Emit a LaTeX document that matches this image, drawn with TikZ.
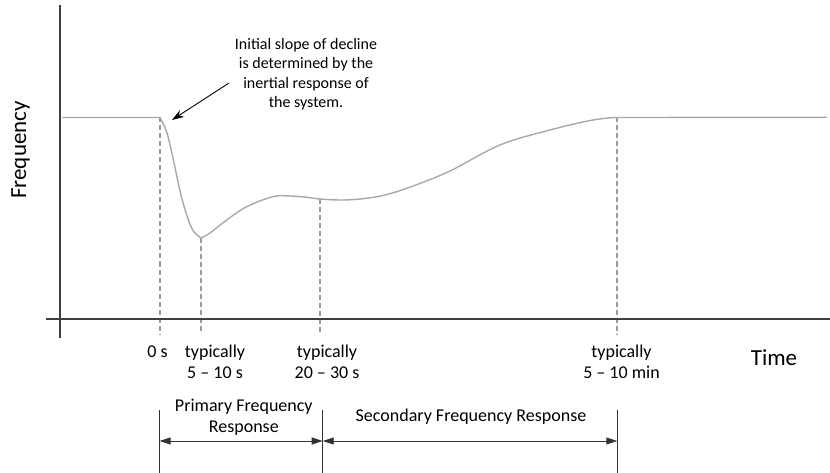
\documentclass[tikz,border=0pt]{standalone}
\usepackage{fontspec}
\setmainfont{Carlito}
\usetikzlibrary{arrows.meta}
\definecolor{axisc}{HTML}{404040}
\definecolor{curvec}{HTML}{A8A8A8}
\definecolor{dashc}{HTML}{9A9A9A}
\tikzset{
  axisline/.style={draw=axisc,line width=2.6pt},
  curveline/.style={draw=curvec,line width=1.4pt},
  guide/.style={draw=dashc,line width=1.2pt,dash pattern=on 5pt off 3pt},
  bracket/.style={draw=black!80,line width=0.9pt},
  span/.style={draw=black!80,line width=0.9pt,{Triangle[length=11pt,width=7pt]}-{Triangle[length=11pt,width=7pt]}},
  lbl/.style={inner sep=0pt,anchor=base,font=\fontsize{18}{21}\selectfont},
  note/.style={inner sep=0pt,anchor=base,font=\fontsize{16}{19.5}\selectfont,align=center},
  big/.style={inner sep=0pt,font=\fontsize{23}{27}\selectfont}
}
\begin{document}
\begin{tikzpicture}[x=1pt,y=-1pt]
\useasboundingbox (0,0) rectangle (830,473);
% key points
\coordinate (a0) at (160,117.5);
\coordinate (a1) at (201,238);
\coordinate (a2) at (320,199);
\coordinate (a3) at (617,117.5);
\coordinate (b0) at (160,335);
\coordinate (b1) at (201,333);
\coordinate (b2) at (320,335);
\coordinate (b3) at (617,335);
% guides
\draw[guide] (a0) -- (b0);
\draw[guide] (a1) -- (b1);
\draw[guide] (a2) -- (b2);
\draw[guide] (a3) -- (b3);
% curve
\draw[curveline] (62,117.5) -- (a0)
  plot[smooth,tension=0.55] coordinates {(160,117.5) (166.7,132) (173,158) (180,191) (186.7,215) (193,230.5) (201,238)}
  plot[smooth,tension=0.6] coordinates {(201,238) (210,233) (226.7,220) (246.7,206.7) (273,196.7) (290,196) (306.7,197.3) (320,199) (340,200) (360,199) (385,195) (413,186) (450,171) (500,145) (550,130) (593,120) (617,117.5)}
  -- (827,117.3);
% axes
\coordinate (yt) at (60,5);
\coordinate (yb) at (60,338);
\coordinate (xl) at (46,319);
\coordinate (xr) at (830,319);
\draw[axisline] (yb) -- (yt);
\draw[axisline] (xl) -- (xr);
% axis labels
\node[big,rotate=90,anchor=base] (freq) at (26,150) {Frequency};
\node[big,anchor=base] (time) at (774,365) {Time};
% annotation
\node[note] (n1) at (306,49.3) {Initial slope of decline};
\node[note] (n2) at (306,68.8) {is determined by the};
\node[note] (n3) at (306,88.3) {inertial response of};
\node[note] (n4) at (306,107.8) {the system.};
\coordinate (tip) at (172,120);
\coordinate (tail) at (229,83);
\draw[black,line width=0.9pt,-{Stealth[length=12pt,width=8pt]}] (tail) -- (tip);
% time labels
\node[lbl] (t0) at (157.5,357) {0 s};
\node[lbl] (t1a) at (215,357) {typically};
\node[lbl] (t1b) at (215,378) {5 – 10 s};
\node[lbl] (t2a) at (327,357) {typically};
\node[lbl] (t2b) at (327,378) {20 – 30 s};
\node[lbl] (t3a) at (621.5,357) {typically};
\node[lbl] (t3b) at (621.5,378) {5 – 10 min};
% brackets
\coordinate (k0t) at (159.5,410);
\coordinate (k0b) at (159.5,473);
\coordinate (k1t) at (322.7,410);
\coordinate (k1b) at (322.7,473);
\coordinate (k2t) at (617.3,410);
\coordinate (k2b) at (617.3,473);
\draw[bracket] (k0t) -- (k0b);
\draw[bracket] (k1t) -- (k1b);
\draw[bracket] (k2t) -- (k2b);
\coordinate (s0) at (159.5,441);
\coordinate (s1) at (322.7,441);
\coordinate (s2) at (617.3,441);
\draw[span] (s0) -- (s1);
\draw[span] (s1) -- (s2);
\node[lbl] (p1) at (243.8,411.7) {Primary Frequency};
\node[lbl] (p2) at (243.8,432.7) {Response};
\node[lbl] (sec) at (471,421.7) {Secondary Frequency Response};
\end{tikzpicture}
\end{document}
